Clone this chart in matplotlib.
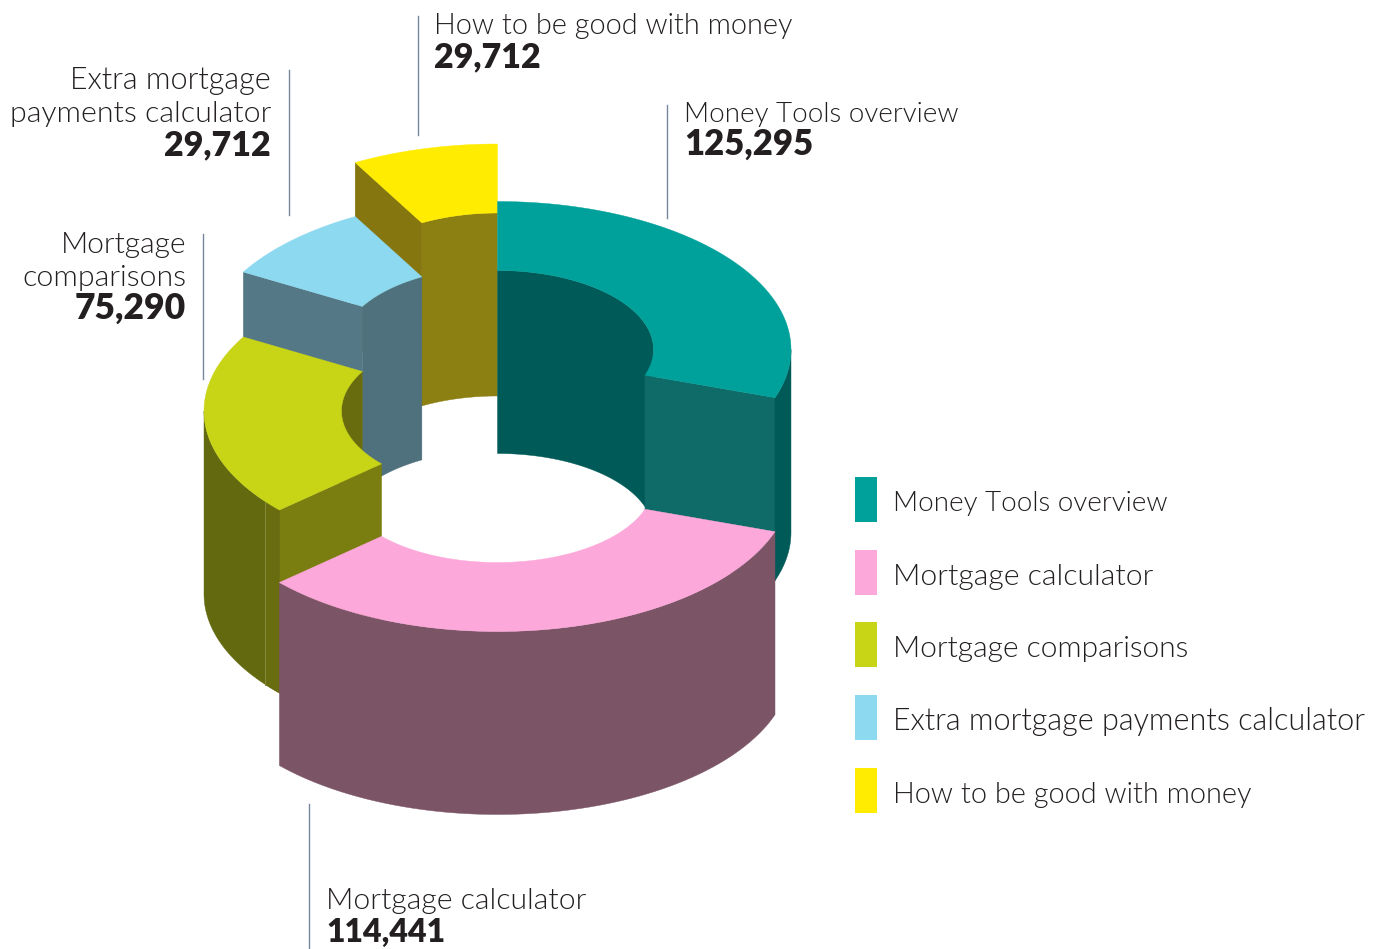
import numpy as np
import matplotlib
matplotlib.use("Agg")
import matplotlib.pyplot as plt
from matplotlib.patches import Polygon, Rectangle

names = ['Money Tools overview', 'Mortgage calculator', 'Mortgage comparisons',
         'Extra mortgage payments calculator', 'How to be good with money']
values = [125295, 114441, 75290, 29712, 29712]
# sweep of each slice in degrees as drawn in the picture (not proportional to the values)
sweeps = [109, 119, 72, 31, 29]

top_cols = ['#00a19a', '#fda8da', '#c8d416', '#8dd9f0', '#ffec00']
outer_cols = ['#005a57', '#7b5466', '#62690f', '#557887', '#85760f']
inner_cols = ['#005a57', '#7b5466', '#696c0e', '#4f707d', '#8d8012']
end_cols = ['#0f6b67', '#7b5466', '#7a7d10', '#557887', '#85760f']

# pixel layout of the drawing
cx = 497.5
rx_out, ry_out = 293.5, 148
rx_in, ry_in = 156, 79
depth = 183
tops = [349.5, 483.5, 411, 346, 292]
draw_order = [4, 3, 0, 2, 1]

W, H = 1385, 949
fig = plt.figure(figsize=(W / 100, H / 100), dpi=100)
ax = fig.add_axes([0, 0, 1, 1])
ax.set_xlim(0, W)
ax.set_ylim(H, 0)
ax.axis('off')

LIGHT = dict(family='Lato', weight=300, color='#231f20')
BOLD = dict(family='Lato', weight='heavy', color='#231f20')


def arc(a0, a1, rx, ry, cy):
    t = np.radians(np.linspace(a0, a1, 120))
    return np.column_stack([cx + rx * np.cos(t), cy - ry * np.sin(t)])


def face(pts, col, z):
    ax.add_patch(Polygon(pts, closed=True, facecolor=col, edgecolor=col, linewidth=0.3, zorder=z))


def wall(a0, a1, rx, ry, cy, col, z):
    upper = arc(a0, a1, rx, ry, cy)
    lower = arc(a0, a1, rx, ry, cy + depth)
    face(np.vstack([upper, lower[::-1]]), col, z)


edges = 90 - np.concatenate([[0], np.cumsum(sweeps)])
z = 1
for i in draw_order:
    hi, lo = edges[i], edges[i + 1]
    cy = tops[i]

    # inner wall shows on the back half only
    for k in range(-1, 2):
        a1, a0 = max(lo, 360 * k), min(hi, 360 * k + 180)
        if a0 > a1:
            wall(a0, a1, rx_in, ry_in, cy, inner_cols[i], z)
            z += 1

    # cut faces turned to the viewer
    for ang, show in ((lo, np.cos(np.radians(lo)) > 0.01), (hi, np.cos(np.radians(hi)) < -0.01)):
        if show:
            t = np.radians(ang)
            x0, y0 = cx + rx_in * np.cos(t), cy - ry_in * np.sin(t)
            x1, y1 = cx + rx_out * np.cos(t), cy - ry_out * np.sin(t)
            face([(x0, y0), (x1, y1), (x1, y1 + depth), (x0, y0 + depth)], end_cols[i], z)
            z += 1

    # outer wall shows on the front half only
    for k in range(-2, 1):
        a1, a0 = max(lo, 360 * k + 180), min(hi, 360 * k + 360)
        if a0 > a1:
            wall(a0, a1, rx_out, ry_out, cy, outer_cols[i], z)
            z += 1

    # seam in the olive wall
    if i == 2:
        wall(hi, -142.3, rx_out, ry_out, cy, '#6a6c10', z)
        z += 1
        s = arc(-142.3, -142.3, rx_out, ry_out, cy)[0]
        ax.plot([s[0], s[0]], [s[1], s[1] + depth], color='#85883a', lw=0.7, zorder=z)
        z += 1

    top = np.vstack([arc(hi, lo, rx_out, ry_out, cy), arc(lo, hi, rx_in, ry_in, cy)])
    face(top, top_cols[i], z)
    z += 1

# leader lines
leaders = [(667, 105, 218), (417.5, 16, 135), (289, 70, 215), (203, 234, 379), (308.5, 804, 949)]
for lx, y0, y1 in leaders:
    ax.plot([lx, lx], [y0, y1], color='#76869c', lw=1.0, zorder=z)

# slice labels, sizes set by hand so each string is as wide as in the original
ax.text(684, 122, names[0], fontsize=20, ha='left', va='baseline', **LIGHT)
ax.text(684, 155, f'{values[0]:,}', fontsize=25, ha='left', va='baseline', **BOLD)
ax.text(434, 34, names[4], fontsize=20.8, ha='left', va='baseline', **LIGHT)
ax.text(434, 67, f'{values[4]:,}', fontsize=24.5, ha='left', va='baseline', **BOLD)
ax.text(271, 89, 'Extra mortgage', fontsize=22, ha='right', va='baseline', **LIGHT)
ax.text(271, 122, 'payments calculator', fontsize=21.8, ha='right', va='baseline', **LIGHT)
ax.text(271, 155, f'{values[3]:,}', fontsize=24.5, ha='right', va='baseline', **BOLD)
ax.text(186, 253, 'Mortgage', fontsize=21.6, ha='right', va='baseline', **LIGHT)
ax.text(186, 286, 'comparisons', fontsize=21.8, ha='right', va='baseline', **LIGHT)
ax.text(186, 319, f'{values[2]:,}', fontsize=25.5, ha='right', va='baseline', **BOLD)
ax.text(326, 909, names[1], fontsize=21.7, ha='left', va='baseline', **LIGHT)
ax.text(326, 942, f'{values[1]:,}', fontsize=23, ha='left', va='baseline', **BOLD)

# legend
leg_tops = [477, 550, 622, 695, 768]
leg_sizes = [20, 21.7, 21.6, 22, 20.8]
for name, col, ly, fs in zip(names, top_cols, leg_tops, leg_sizes):
    ax.add_patch(Rectangle((855, ly), 22, 45, facecolor=col, edgecolor='none', zorder=z))
    ax.text(893, ly + 34.5, name, fontsize=fs, ha='left', va='baseline', **LIGHT)

fig.savefig('out.png', dpi=100, facecolor='white')
